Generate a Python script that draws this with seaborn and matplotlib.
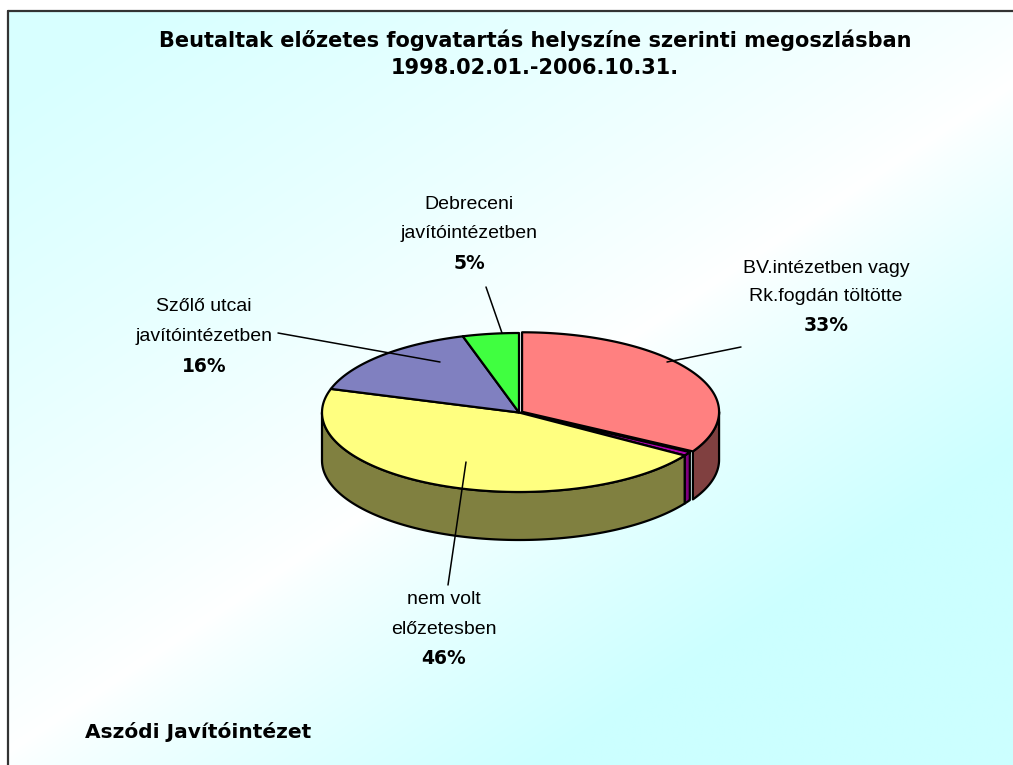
import numpy as np
import matplotlib
matplotlib.use("Agg")
import matplotlib.pyplot as plt
from matplotlib.patches import Polygon
import seaborn as sns

# ---------------- data ----------------
categories = ["BV.intézetben vagy\nRk.fogdán töltötte", "egyéb", "nem volt\nelőzetesben",
              "Szőlő utcai\njavítóintézetben", "Debreceni\njavítóintézetben"]
values = [33.3, 0.8, 45.7, 15.6, 4.6]
show_label = [True, False, True, True, True]
title_lines = ["Beutaltak előzetes fogvatartás helyszíne szerinti megoszlásban",
               "1998.02.01.-2006.10.31."]
footer = "Aszódi Javítóintézet"

top_colors = ["#FF8080", "#B000B0", "#FFFF80", "#8080C0", "#40FF40"]
side_colors = ["#804040", "#800080", "#808040", "#404060", "#208020"]

# ---------------- layout ----------------
W, H = 1013, 765
cx, cy, a, b, depth = 519, 412.5, 197, 79.5, 48
explode = [0.018, 0.0, 0.0, 0.0, 0.0]
label_pos = [(826, 296.5), None, (444, 629), (204, 336.5), (469, 233.5)]
line_gap = [28.5, None, 29, 30, 29.5]
leader_from = [(741, 347), None, (466, 462), (278, 333), (486, 287)]
leader_to = [(667, 362), None, (448, 585), (440, 362), (502, 333)]

sns.set_theme(style="white")
plt.rcParams['font.family'] = ['Liberation Sans', 'DejaVu Sans']
plt.rcParams['text.color'] = 'black'

fig = plt.figure(figsize=(W / 100, H / 100), dpi=100)
ax = fig.add_axes([0, 0, 1, 1])
ax.axis("off")

# background gradient inside frame
fx0, fy0 = 8, 11
xs = np.linspace(0, 1, 300)
ys = np.linspace(0, 1, 230)
X, Y = np.meshgrid(xs, ys)
d = 0.47 * X + 0.53 * Y - 0.52
c_tl = np.array([0.85, 1.0, 1.0])
c_br = np.array([0.80, 1.0, 1.0])
white = np.array([1.0, 1.0, 1.0])
f_tl = np.clip(-d / 0.45, 0, 1)[..., None] ** 0.8
f_br = np.clip(d / 0.26, 0, 1)[..., None] ** 0.8
img = white * (1 - f_tl - f_br) + c_tl * f_tl + c_br * f_br
ax.imshow(img, extent=(fx0, W + 2, H + 2, fy0), aspect="auto", zorder=0, interpolation="bilinear")
ax.plot([fx0, fx0], [H + 5, fy0], color="#333333", lw=1.6, zorder=1)
ax.plot([fx0, W + 5], [fy0, fy0], color="#333333", lw=1.6, zorder=1)
ax.set_xlim(0, W)
ax.set_ylim(H, 0)

# ---------------- 3D pie ----------------
total = sum(values)
angles = [90.0]
for v in values:
    angles.append(angles[-1] - 360.0 * v / total)


def ell(theta_deg, ox=0.0, oy=0.0, dz=0.0):
    t = np.radians(theta_deg)
    return cx + ox + a * np.cos(t), cy + oy - b * np.sin(t) + dz


sides = []
tops = []
for i, v in enumerate(values):
    t1, t2 = angles[i], angles[i + 1]
    mid = np.radians((t1 + t2) / 2)
    ox = explode[i] * a * np.cos(mid)
    oy = -explode[i] * b * np.sin(mid)
    th = np.linspace(t1, t2, 120)
    xe, ye = ell(th, ox, oy)
    top = np.vstack([[cx + ox, cy + oy], np.column_stack([xe, ye])])
    tops.append(Polygon(top, closed=True, fc=top_colors[i], ec="black", lw=1.6, zorder=4,
                        joinstyle="round"))
    lo, hi = max(t2, -180.0), min(t1, 0.0)
    if lo < hi:
        th2 = np.linspace(hi, lo, 120)
        xa, ya = ell(th2, ox, oy)
        xb, yb = ell(th2[::-1], ox, oy, depth)
        poly = np.column_stack([np.concatenate([xa, xb]), np.concatenate([ya, yb])])
        sides.append(Polygon(poly, closed=True, fc=side_colors[i], ec="black", lw=1.6, zorder=3,
                             joinstyle="round"))
for p in sides:
    ax.add_patch(p)
for p in tops:
    ax.add_patch(p)

# ---------------- labels ----------------
for i, v in enumerate(values):
    if not show_label[i]:
        continue
    x, y = label_pos[i]
    g = line_gap[i]
    l1, l2 = categories[i].split("\n")
    pct = f"{round(100 * v / total):d}%"
    ax.text(x, y - g, l1, ha="center", va="center", fontsize=14, color="black", zorder=6)
    ax.text(x, y, l2, ha="center", va="center", fontsize=14, color="black", zorder=6)
    ax.text(x, y + g, pct, ha="center", va="center", fontsize=13.5, fontweight="bold",
            family=["DejaVu Sans"], color="black", zorder=6)
    (x1, y1), (x2, y2) = leader_from[i], leader_to[i]
    ax.plot([x1, x2], [y1, y2], color="black", lw=1.1, zorder=5)

for k, ty in enumerate([40, 68]):
    ax.text(535, ty, title_lines[k], ha="center", va="center", fontsize=15, fontweight="bold",
            family=["DejaVu Sans"], color="black", zorder=6)
ax.text(85, 732, footer, ha="left", va="center", fontsize=14.5, fontweight="bold",
        family=["DejaVu Sans"], color="black", zorder=6)

fig.savefig("out.png", dpi=100)
